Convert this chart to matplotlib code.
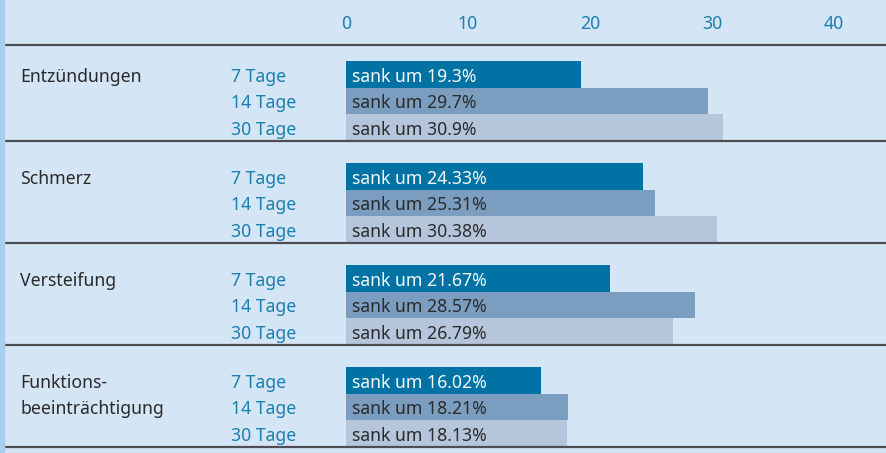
import matplotlib
matplotlib.use("Agg")
import matplotlib.pyplot as plt
import matplotlib.transforms as mtransforms
from matplotlib.patches import Rectangle

categories = ["Entzündungen", "Schmerz", "Versteifung", "Funktions-\nbeeinträchtigung"]
periods = ["7 Tage", "14 Tage", "30 Tage"]
# Rückgang in % nach 7 / 14 / 30 Tagen
values = [
    [19.3, 29.7, 30.9],
    [24.33, 25.31, 30.38],
    [21.67, 28.57, 26.79],
    [16.02, 18.21, 18.13],
]
xticks = [0, 10, 20, 30, 40]

bg = "#d4e5f5"
strip = "#a9cfee"
bar_colors = ["#0073a4", "#7b9dc0", "#b5c6dc"]
text_on_bar = ["#f4f8fb", "#2b2b2b", "#2b2b2b"]
blue = "#1b7fb0"
dark = "#2b2b2b"
line_col = "#4c4e54"

plt.rcParams['font.family'] = ['Noto Sans', 'DejaVu Sans']
FS = 12.7

W, H = 886, 453
fig = plt.figure(figsize=(W / 100, H / 100), dpi=100, facecolor=bg)
fig.patches.append(Rectangle((0, 0), 4 / W, 1, transform=fig.transFigure,
                             color=strip, zorder=0))

ax = fig.add_axes([4 / W, 0, 1 - 4 / W, (H - 45) / H])
ax.set_facecolor(bg)
px = 12.2          # pixels per unit
zero = 346         # pixel position of 0
ax.set_xlim((4 - zero) / px, (W - zero) / px)
ax.set_ylim(H, 45)  # vertical layout in pixel rows

row_h = 26.5
first_top = 61
step = 102
base = 7.4  # baseline below row centre

trans = mtransforms.blended_transform_factory(ax.transAxes, ax.transData)

for g, (cat, vals) in enumerate(zip(categories, values)):
    top = first_top + g * step
    ys = [top + r * row_h for r in range(3)]
    ax.barh(ys, vals, height=row_h, align='edge', color=bar_colors, lw=0)
    ax.axhline(top + 3 * row_h, color=line_col, lw=1.6)
    for r, line in enumerate(cat.split("\n")):
        ax.text(16 / 882, ys[r] + row_h / 2 + base, line, transform=trans,
                color=dark, fontsize=FS, va='baseline', ha='left')
    for r, (p, v) in enumerate(zip(periods, vals)):
        yc = ys[r] + row_h / 2 + base
        ax.text(227 / 882, yc, p, transform=trans, color=blue,
                fontsize=FS, va='baseline', ha='left')
        ax.annotate(f"sank um {v:g}%", xy=(0, yc), xytext=(4.5, 0),
                    textcoords='offset points', color=text_on_bar[r],
                    fontsize=FS, va='baseline', ha='left')

ax.xaxis.tick_top()
ax.set_xticks(xticks)
ax.tick_params(axis='x', length=0, pad=8.5, labelcolor=blue, labelsize=FS)
ax.set_yticks([])
for s in ['left', 'right', 'bottom']:
    ax.spines[s].set_visible(False)
ax.spines['top'].set_color(line_col)
ax.spines['top'].set_linewidth(1.6)

fig.savefig("out.png", dpi=100, facecolor=bg)
